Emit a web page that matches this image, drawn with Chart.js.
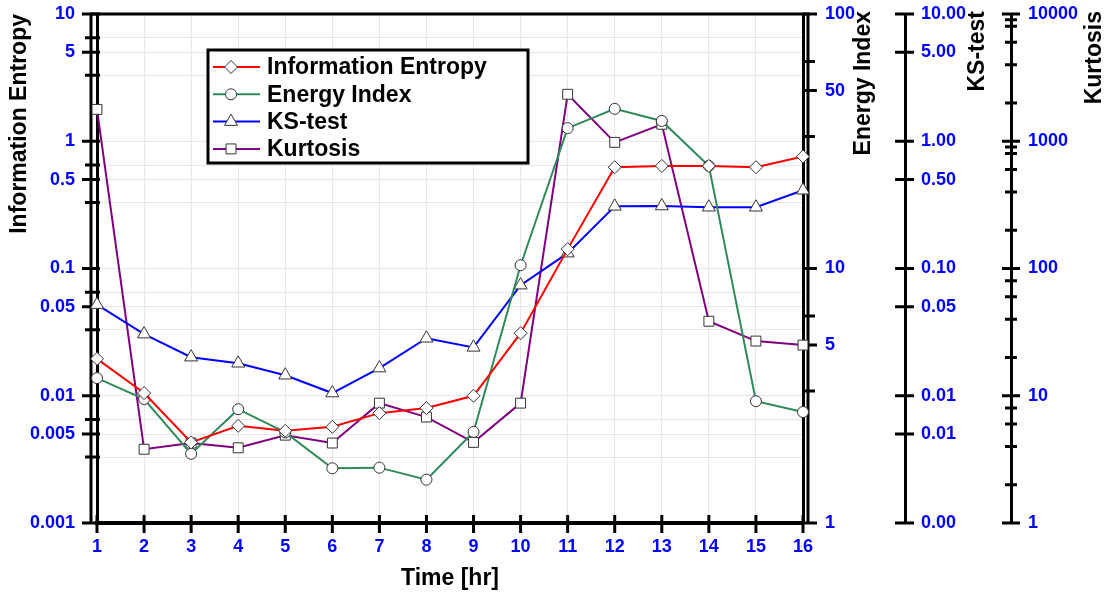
<!DOCTYPE html>
<html>
<head>
<meta charset="utf-8">
<script src="https://cdn.jsdelivr.net/npm/chart.js@4.4.0/dist/chart.umd.min.js"></script>
<style>
  body { margin: 0; background: #fff; }
  canvas { display: block; }
</style>
</head>
<body>
<canvas id="chart" width="1109" height="593"></canvas>
<script>
// values
const hours = [1, 2, 3, 4, 5, 6, 7, 8, 9, 10, 11, 12, 13, 14, 15, 16];
const infoEntropy = [0.0195, 0.0105, 0.0043, 0.0058, 0.0053, 0.0057, 0.0073, 0.008, 0.0100, 0.031, 0.142, 0.625, 0.64, 0.64, 0.625, 0.76];
const energyIndex = [3.71, 3.07, 1.87, 2.80, 2.27, 1.64, 1.65, 1.48, 2.28, 10.3, 35.6, 42.4, 38, 25.3, 3.01, 2.73];
const ksTest = [0.052, 0.0305, 0.0201, 0.018, 0.0145, 0.0105, 0.0165, 0.0283, 0.024, 0.074, 0.132, 0.308, 0.31, 0.303, 0.303, 0.412];
const kurtosis = [1780, 3.8, 4.25, 3.9, 4.9, 4.25, 8.75, 6.8, 4.3, 8.75, 2340, 980, 1360, 38.5, 26.9, 25];

// tick values of each axis
const entropyTicks = [0.001, 0.0033, 0.005, 0.0065, 0.01, 0.033, 0.05, 0.065, 0.1, 0.33, 0.5, 0.65, 1, 3.3, 5, 6.5, 10];
const entropyLabels = [0.001, 0.005, 0.01, 0.05, 0.1, 0.5, 1, 5, 10];
const energyTicks = [1, 3.3, 5, 6.5, 10, 33, 50, 65, 100];
const energyLabels = [1, 5, 10, 50, 100];
const ksTicks = [0.001, 0.005, 0.01, 0.05, 0.1, 0.5, 1, 5, 10];
const kurtTicks = [1, 2, 4, 6, 8, 10, 20, 40, 60, 80, 100, 200, 400, 600, 800, 900, 1000, 2000, 4000, 6000, 8000, 9000, 10000];
const kurtLabels = [1, 10, 100, 1000, 10000];

const FONT = 'Liberation Sans, Arial, sans-serif';
const tickFont = { family: FONT, size: 18, weight: 'bold' };
const titleFont = { family: FONT, size: 23, weight: 'bold' };
const BLUE = '#0000ff';

function points(values) {
  return hours.map((h, i) => ({ x: h, y: values[i] }));
}

function makeSet(label, values, color, style, radius, axis) {
  return {
    label: label,
    data: points(values),
    yAxisID: axis,
    borderColor: color,
    backgroundColor: color,
    borderWidth: 2,
    tension: 0,
    pointStyle: style,
    pointRadius: radius,
    pointHoverRadius: radius,
    pointBackgroundColor: '#ffffff',
    pointBorderColor: '#333333',
    pointBorderWidth: 1,
    clip: false
  };
}

// fixed axis width, and no extra top/bottom room for the end labels
function fixWidth(width) {
  return s => {
    s.width = width;
    s.paddingTop = 0;
    s.paddingBottom = 0;
  };
}

function logAxis(position, min, max, tickList, labelFn, width, pad) {
  return {
    type: 'logarithmic',
    position: position,
    min: min,
    max: max,
    afterBuildTicks: s => { s.ticks = tickList.map(v => ({ value: v })); },
    afterFit: fixWidth(width),
    ticks: { color: BLUE, font: tickFont, padding: pad, autoSkip: false, callback: labelFn },
    grid: { drawOnChartArea: false, drawTicks: false },
    border: { display: true, color: '#000', width: 3 }
  };
}

// tick marks that cross the axis line: [start, end] relative to the line
const tickMarks = {
  x: { major: [-8, 10], minor: [-8, 10] },
  yEnt: { major: [-15, 3], minor: [-12, 3] },
  yEnergy: { major: [0, 14], minor: [0, 12] },
  yKS: { major: [-10, 9], minor: [-10, 9] },
  yKurt: { major: [-9, 9], minor: [-6, 6] }
};

const rightTitles = [
  { axis: 'yEnergy', text: 'Energy Index', dx: 61 },
  { axis: 'yKS', text: 'KS-test', dx: 73 },
  { axis: 'yKurt', text: 'Kurtosis', dx: 84 }
];

const framePlugin = {
  id: 'frame',
  beforeDatasetsDraw(chart) {
    const ctx = chart.ctx;
    const a = chart.chartArea;
    ctx.save();
    ctx.strokeStyle = '#000';
    ctx.lineWidth = 3;
    ctx.beginPath();
    ctx.moveTo(a.left - 7, a.top); ctx.lineTo(a.right + 6, a.top);
    ctx.moveTo(a.left - 6, a.top); ctx.lineTo(a.left - 6, a.bottom);
    ctx.moveTo(a.right + 5, a.top); ctx.lineTo(a.right + 5, a.bottom);
    ctx.stroke();
    Object.keys(tickMarks).forEach(id => {
      const s = chart.scales[id];
      const m = tickMarks[id];
      ctx.beginPath();
      s.ticks.forEach(t => {
        const r = t.label !== '' ? m.major : m.minor;
        const p = s.getPixelForValue(t.value);
        if (s.isHorizontal()) {
          ctx.moveTo(p, s.top + r[0]); ctx.lineTo(p, s.top + r[1]);
        } else {
          const base = s.position === 'left' ? s.right : s.left;
          ctx.moveTo(base + r[0], p); ctx.lineTo(base + r[1], p);
        }
      });
      ctx.stroke();
    });
    ctx.restore();
  },
  afterDraw(chart) {
    const ctx = chart.ctx;
    ctx.save();
    ctx.fillStyle = '#000';
    ctx.font = 'bold 23px ' + FONT;
    ctx.textAlign = 'right';
    ctx.textBaseline = 'middle';
    rightTitles.forEach(t => {
      const s = chart.scales[t.axis];
      ctx.save();
      ctx.translate(s.left + t.dx, 11);
      ctx.rotate(-Math.PI / 2);
      ctx.fillText(t.text, 0, 0);
      ctx.restore();
    });
    ctx.restore();
  }
};

const boxLegend = {
  id: 'boxLegend',
  afterDatasetsDraw(chart) {
    const ctx = chart.ctx;
    const x = 208, y = 50, w = 320, h = 113;
    ctx.save();
    ctx.fillStyle = '#fff';
    ctx.fillRect(x, y, w, h);
    ctx.lineWidth = 3;
    ctx.strokeStyle = '#000';
    ctx.strokeRect(x, y, w, h);
    ctx.font = 'bold 23px ' + FONT;
    ctx.textBaseline = 'middle';
    chart.data.datasets.forEach((ds, i) => {
      const cy = y + 17 + i * 27.3;
      ctx.strokeStyle = ds.borderColor;
      ctx.lineWidth = 2;
      ctx.beginPath();
      ctx.moveTo(x + 5, cy); ctx.lineTo(x + 52, cy);
      ctx.stroke();
      ctx.fillStyle = '#fff';
      ctx.strokeStyle = ds.pointBorderColor;
      ctx.lineWidth = 1;
      Chart.helpers.drawPoint(ctx, { pointStyle: ds.pointStyle, radius: ds.pointRadius, rotation: 0, borderWidth: 1 }, x + 23, cy);
      ctx.fillStyle = '#000';
      ctx.fillText(ds.label, x + 59, cy + 1);
    });
    ctx.restore();
  }
};

new Chart(document.getElementById('chart'), {
  type: 'line',
  data: {
    datasets: [
      makeSet('Information Entropy', infoEntropy, '#ff0000', 'rectRot', 6.5, 'yEnt'),
      makeSet('Energy Index', energyIndex, '#2e8b57', 'circle', 5.5, 'yEnergy'),
      makeSet('KS-test', ksTest, '#0000ff', 'triangle', 7.5, 'yKS'),
      makeSet('Kurtosis', kurtosis, '#800080', 'rect', 7, 'yKurt')
    ]
  },
  options: {
    responsive: false,
    animation: false,
    devicePixelRatio: 1,
    layout: { padding: { top: 14, left: 0, right: 0, bottom: 0 } },
    plugins: { legend: { display: false }, tooltip: { enabled: false } },
    scales: {
      x: {
        type: 'linear',
        min: 1,
        max: 16,
        afterBuildTicks: s => { s.ticks = hours.map(v => ({ value: v })); },
        afterFit: s => { s.height = 70; },
        ticks: { color: BLUE, font: tickFont, padding: 13, autoSkip: false, maxRotation: 0 },
        grid: { color: '#e6e6e6', lineWidth: 1, drawTicks: false },
        border: { display: true, color: '#000', width: 4 },
        title: { display: true, text: 'Time [hr]', color: '#000', font: titleFont, padding: { top: 0, bottom: 1 } }
      },
      yEnt: {
        type: 'logarithmic',
        position: 'left',
        min: 0.001,
        max: 10,
        afterBuildTicks: s => { s.ticks = entropyTicks.map(v => ({ value: v })); },
        afterFit: fixWidth(97),
        ticks: { color: BLUE, font: tickFont, padding: 22, autoSkip: false,
          callback: v => entropyLabels.includes(v) ? String(v) : '' },
        grid: { color: '#e6e6e6', lineWidth: 1, drawTicks: false },
        border: { display: true, color: '#000', width: 3 },
        title: { display: true, text: 'Information Entropy', color: '#000', font: titleFont, align: 'end', padding: { top: 6, bottom: 0 } }
      },
      yEnergy: logAxis('right', 1, 100, energyTicks, v => energyLabels.includes(v) ? String(v) : '', 102, 22),
      yKS: logAxis('right', 0.001, 10, ksTicks, v => v.toFixed(2), 106, 16),
      yKurt: logAxis('right', 1, 10000, kurtTicks, v => kurtLabels.includes(v) ? String(v) : '', 98, 17)
    }
  },
  plugins: [framePlugin, boxLegend]
});
</script>
</body>
</html>
